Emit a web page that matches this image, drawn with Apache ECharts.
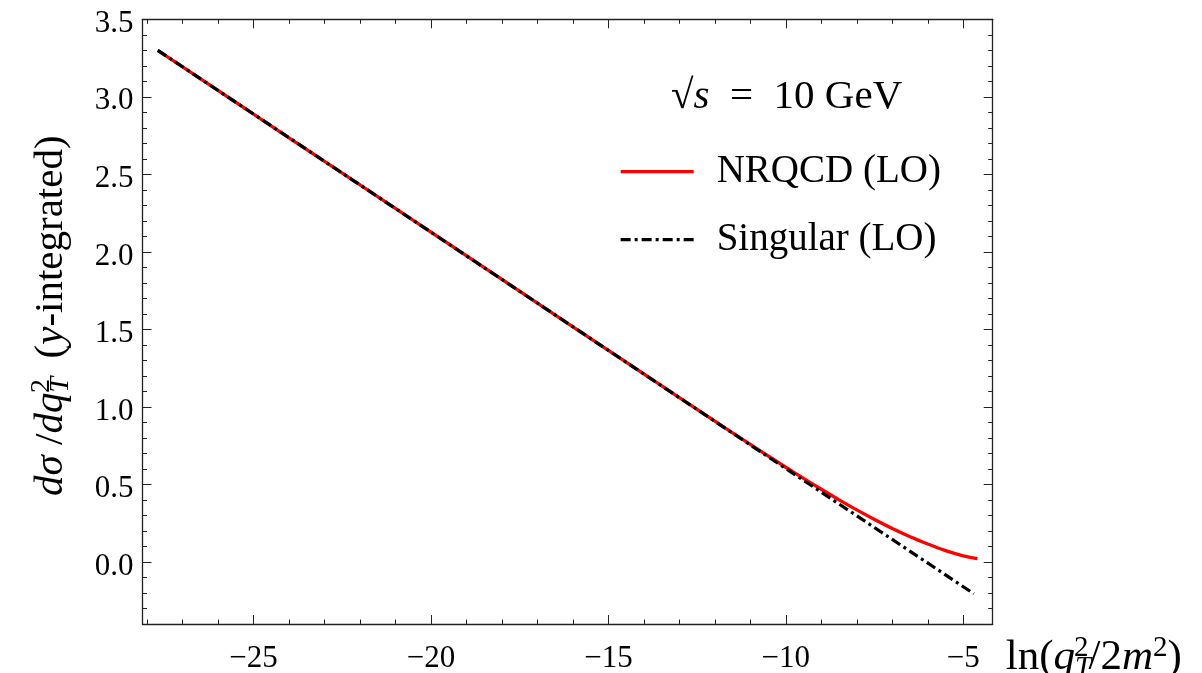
<!DOCTYPE html>
<html><head><meta charset="utf-8">
<script src="https://cdn.jsdelivr.net/npm/echarts@6/dist/echarts.min.js"></script>
<style>html,body{margin:0;padding:0;background:#fff}#c{width:1202px;height:673px}</style>
</head><body><div id="c"></div>
<script>
// ---- data ----
const lnQ = [-27.7, -24, -20, -16, -13, -12, -11, -10, -9.5, -9, -8.5, -8, -7.5, -7, -6.5, -6, -5.5, -5, -4.6];
const nrqcd = [3.300, 2.736, 2.127, 1.517, 1.060, 0.908, 0.759, 0.611, 0.539, 0.469, 0.401, 0.336, 0.274, 0.216, 0.163, 0.116, 0.073, 0.040, 0.022];
const lnQSingular = [-27.7, -20, -12, -4.7];
const singular = [3.300, 2.127, 0.907, -0.205];
const xMajorTicks = [-25, -20, -15, -10, -5];
const yMajorTicks = [0, 0.5, 1.0, 1.5, 2.0, 2.5, 3.0, 3.5];
const xMinorTicks = [-28, -27, -26, -24, -23, -22, -21, -19, -18, -17, -16, -14, -13, -12, -11, -9, -8, -7, -6];
const yMinorTicks = [-0.3, -0.2, -0.1, 0.1, 0.2, 0.3, 0.4, 0.6, 0.7, 0.8, 0.9, 1.1, 1.2, 1.3, 1.4, 1.6, 1.7, 1.8, 1.9,
  2.1, 2.2, 2.3, 2.4, 2.6, 2.7, 2.8, 2.9, 3.1, 3.2, 3.3, 3.4];
const seriesNames = ['NRQCD (LO)', 'Singular (LO)'];

const X_MIN = -28.13, X_MAX = -4.17, Y_MIN = -0.4, Y_MAX = 3.5;
const F = "'Liberation Serif', 'Times New Roman', serif";
const AX = '#222';
const minus = s => s.replace('-', '\u2212');

function mkRich(size) {
  const s2 = Math.round(size * 0.68);
  return {
    n: { fontFamily: F, fontSize: size, fontWeight: 'normal', lineHeight: size + 6, color: '#000' },
    i: { fontFamily: F, fontSize: size, fontStyle: 'italic', fontWeight: 'normal', lineHeight: size + 6, color: '#000' },
    sub: { fontFamily: F, fontSize: s2, fontStyle: 'italic', fontWeight: 'normal', lineHeight: s2, verticalAlign: 'bottom', color: '#000' },
    sup: { fontFamily: F, fontSize: s2, fontWeight: 'normal', lineHeight: s2, verticalAlign: 'top', color: '#000', padding: [0, 0, 0, -Math.round(s2 * 0.58)] },
    sup2: { fontFamily: F, fontSize: s2, fontWeight: 'normal', lineHeight: s2, verticalAlign: 'top', color: '#000' }
  };
}

function xAx(pos, ticks, len, labels, line) {
  return {
    type: 'value', position: pos, min: X_MIN, max: X_MAX, gridIndex: 0,
    splitLine: { show: false },
    axisLine: { show: line, onZero: false, lineStyle: { color: AX, width: 1.3 } },
    axisTick: { show: true, inside: true, length: len, customValues: ticks, lineStyle: { color: AX, width: 1 } },
    axisLabel: labels ? {
      show: true, customValues: ticks, margin: 19, color: '#000', fontFamily: F, fontSize: 31,
      formatter: v => minus(String(v))
    } : { show: false }
  };
}
function yAx(pos, ticks, len, labels, line) {
  return {
    type: 'value', position: pos, min: Y_MIN, max: Y_MAX, gridIndex: 0,
    splitLine: { show: false },
    axisLine: { show: line, onZero: false, lineStyle: { color: AX, width: 1.3 } },
    axisTick: { show: true, inside: true, length: len, customValues: ticks, lineStyle: { color: AX, width: 1 } },
    axisLabel: labels ? {
      show: true, customValues: ticks, margin: 9, color: '#000',
      formatter: v => '{a|' + minus(v.toFixed(1)) + '}',
      rich: { a: { fontFamily: F, fontSize: 31, color: '#000', lineHeight: 31, padding: [9, 0, 0, 0] } }
    } : { show: false }
  };
}

const xAxes = [
  xAx('bottom', xMajorTicks, 9, true, true),
  xAx('bottom', xMinorTicks, 4.5, false, false),
  xAx('top', xMajorTicks, 9, false, true),
  xAx('top', xMinorTicks, 4.5, false, false)
];
xAxes[0].name = '{n|ln(}{i|q}{sub|T}{sup|2}{n|/2}{i|m}{sup2|2}{n|)}';
xAxes[0].nameLocation = 'end';
xAxes[0].nameGap = 13;
xAxes[0].nameTextStyle = { rich: mkRich(43), align: 'left', verticalAlign: 'middle', padding: [68, 0, 0, 0] };

const yAxes = [
  yAx('left', yMajorTicks, 9, true, true),
  yAx('left', yMinorTicks, 4.5, false, false),
  yAx('right', yMajorTicks, 9, false, true),
  yAx('right', yMinorTicks, 4.5, false, false)
];
yAxes[0].name = '{i|dσ}{n| /}{i|dq}{sub|T}{sup|2}{n|  (}{i|y}{n|-integrated)}';
yAxes[0].nameLocation = 'middle';
yAxes[0].nameGap = 68;
yAxes[0].nameTextStyle = { rich: mkRich(41), padding: [0, 0, 0, 12] };

const chart = echarts.init(document.getElementById('c'), null, { renderer: 'canvas' });
chart.setOption({
  animation: false,
  backgroundColor: '#fff',
  grid: { left: 142.5, right: 209.3, top: 19.3, bottom: 49, containLabel: false, outerBoundsMode: 'none' },
  title: {
    text: '{n|√}{i|s}{n|  =  10 GeV}',
    left: 666, top: 69,
    textStyle: { rich: mkRich(41), fontWeight: 'normal' }
  },
  legend: {
    orient: 'vertical', left: 619, top: 151.7, padding: 0,
    itemWidth: 73, itemHeight: 40, itemGap: 28,
    itemStyle: { opacity: 0 },
    textStyle: { fontFamily: F, fontSize: 39, color: '#000', lineHeight: 40, padding: [0, 0, 0, 18] },
    lineStyle: { width: 3.3 },
    data: seriesNames
  },
  xAxis: xAxes,
  yAxis: yAxes,
  series: [
    {
      name: seriesNames[0], type: 'line', xAxisIndex: 0, yAxisIndex: 0,
      data: lnQ.map((x, k) => [x, nrqcd[k]]),
      symbol: 'none', smooth: 0.3,
      lineStyle: { color: '#ff0000', width: 3.3 },
      itemStyle: { color: '#ff0000' }
    },
    {
      name: seriesNames[1], type: 'line', xAxisIndex: 0, yAxisIndex: 0,
      data: lnQSingular.map((x, k) => [x, singular[k]]),
      symbol: 'none',
      lineStyle: { color: '#000', width: 3.2, type: [10, 4, 3, 4], cap: 'butt' },
      itemStyle: { color: '#000' }
    }
  ]
});
</script></body></html>
